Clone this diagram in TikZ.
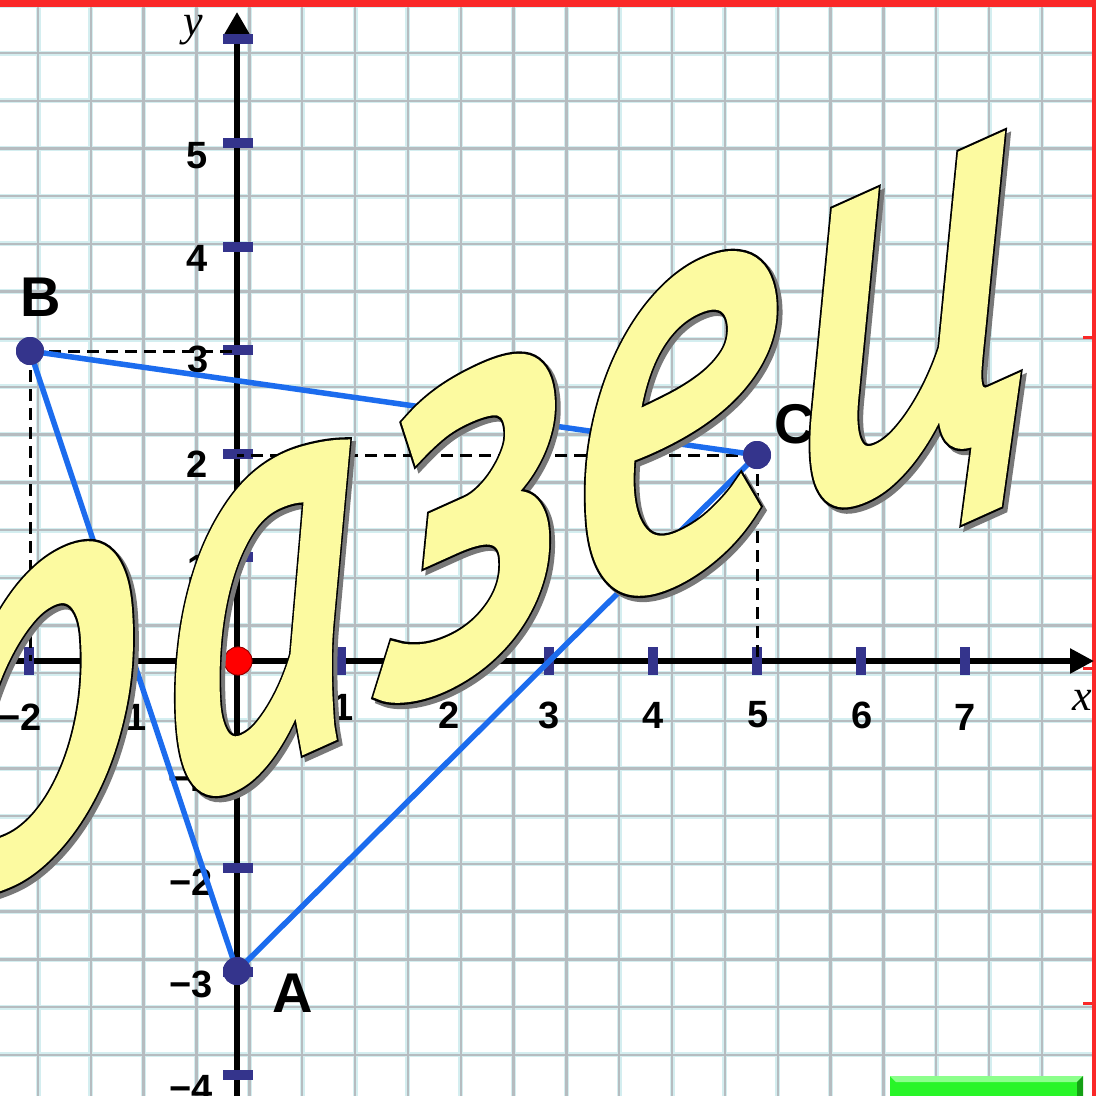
\documentclass[tikz,border=0pt]{standalone}
\usepackage{fontspec}
\setmainfont{Liberation Sans}
\newfontfamily\lblfont{Liberation Sans}
\newfontfamily\axfont{Liberation Serif}
\newfontfamily\wmfill{PT Sans}[ItalicFeatures={FakeBold=3}]
\newfontfamily\wmline{PT Sans}[ItalicFeatures={FakeBold=3.8}]
\usetikzlibrary{arrows.meta}
\definecolor{gridgray}{RGB}{182,188,192}
\definecolor{gridcyan}{RGB}{212,238,240}
\definecolor{navy}{RGB}{52,52,140}
\definecolor{triblue}{RGB}{28,108,238}
\definecolor{wmyellow}{RGB}{252,250,160}
\definecolor{wmshadow}{RGB}{120,120,120}
\definecolor{framered}{RGB}{250,40,40}
\definecolor{btn}{RGB}{40,245,40}
\definecolor{btnlight}{RGB}{140,255,140}
\definecolor{btndark}{RGB}{20,160,20}
\newcommand\wmletter[6]{%
  \node[wm, xscale=#6, xslant=-0.08, text=wmshadow, font=\wmline\itshape\fontsize{#5}{#5}\selectfont] (#1s) at ({#2+4},{#3+4}) {#4};
  \node[wm, xscale=#6, xslant=-0.08, text=black, font=\wmline\itshape\fontsize{#5}{#5}\selectfont] (#1o) at (#2,#3) {#4};
  \node[wm, xscale=#6, xslant=-0.08, text=wmyellow, font=\wmfill\itshape\fontsize{#5}{#5}\selectfont] (#1f) at (#2,#3) {#4};
}
\begin{document}
\begin{tikzpicture}[x=1pt,y=-1pt,
  gridline/.style={line width=2.4pt, draw=gridgray},
  gridhalo/.style={line width=5pt, draw=gridcyan},
  axis/.style={line width=5.5pt, draw=black},
  tickh/.style={rectangle, fill=navy, draw=none, minimum width=30pt, minimum height=10pt, inner sep=0pt},
  tickv/.style={rectangle, fill=navy, draw=none, minimum width=10pt, minimum height=28pt, inner sep=0pt},
  num/.style={font=\lblfont\bfseries\fontsize{38}{38}\selectfont, inner sep=0pt},
  ptlbl/.style={font=\lblfont\bfseries\fontsize{56}{56}\selectfont, inner sep=0pt},
  axlbl/.style={font=\axfont\itshape\fontsize{44}{44}\selectfont, inner sep=0pt},
  dot/.style={circle, fill=navy, minimum size=28pt, inner sep=0pt},
  origin/.style={circle, fill=red, draw={rgb,255:red,150;green,0;blue,0}, line width=0.8pt, minimum size=28pt, inner sep=0pt},
  side/.style={draw=triblue, line width=5.5pt, line cap=round},
  proj/.style={draw=black, line width=3pt, dash pattern=on 12pt off 7pt},
  wm/.style={anchor=base, inner sep=0pt, yslant=0.45},
]
\useasboundingbox (0,0) rectangle (1096,1096);
\fill[white] (0,0) rectangle (1096,1096);
% grid
\foreach \i in {-1,...,19} {
  \draw[gridhalo] ({38+52.84*\i},0) -- ({38+52.84*\i},1096);
}
\foreach \k in {-1,...,22} {
  \draw[gridhalo] (0,{53+47.7*\k}) -- (1096,{53+47.7*\k});
}
\foreach \i in {-1,...,19} {
  \draw[gridline] ({38+52.84*\i},0) -- ({38+52.84*\i},1096);
}
\foreach \k in {-1,...,22} {
  \draw[gridline] (0,{53+47.7*\k}) -- (1096,{53+47.7*\k});
}
% red frame
\fill[framered] (0,0) rectangle (1096,7);
\fill[framered] (1092,0) rectangle (1096,1096);
\foreach \yy in {337,668,1003} {
  \fill[framered] (1083,{\yy-1.5}) rectangle (1096,{\yy+1.5});
}
% green button
\fill[btn] (890,1076) rectangle (1083,1100);
\fill[btnlight] (890,1076) -- (1083,1076) -- (1077,1082) -- (896,1082) -- cycle;
\fill[btndark] (1083,1076) -- (1083,1100) -- (1077,1100) -- (1077,1082) -- cycle;
% axes
\coordinate (ybot) at (237,1096);
\coordinate (ytop) at (237,12);
\coordinate (xleft) at (0,661);
\coordinate (xright) at (1094,661);
\draw[axis, -{Triangle[length=24pt,width=26pt]}] (ybot) -- (ytop);
\draw[axis, -{Triangle[length=24pt,width=24pt]}] (xleft) -- (xright);
% ticks
\foreach \v in {6,5,4,3,2,1,-1,-2,-3,-4} {
  \node[tickh] (ty\v) at (238,{661-103.6*\v}) {};
}
\foreach \v in {-2,-1,1,2,3,4,5,6,7} {
  \node[tickv] (tx\v) at ({237+104*\v},661) {};
}
% tick labels
\node[num] (ly5) at (197,156) {5};
\node[num] (ly4) at (197,258) {4};
\node[num] (ly3) at (198,359) {3};
\node[num] (ly2) at (197,464) {2};
\node[num] (ly1) at (198,568) {1};
\node[num] (lym1) at (190,778) {−1};
\node[num] (lym2) at (191,882) {−2};
\node[num] (lym3) at (191,984) {−3};
\node[num] (lym4) at (191,1088) {−4};
\node[num] (lxm2) at (20,717) {−2};
\node[num] (lxm1) at (125,717) {−1};
\node[num] (lx0) at (210,702) {0};
\node[num] (lx1) at (343,707) {1};
\node[num] (lx2) at (449,715) {2};
\node[num] (lx3) at (549,715) {3};
\node[num] (lx4) at (653,715) {4};
\node[num] (lx5) at (758,715) {5};
\node[num] (lx6) at (862,715) {6};
\node[num] (lx7) at (965,717) {7};
\node[axlbl] (lblx) at (1082,700) {x};
\node[axlbl] (lbly) at (193,30) {y};
% points
\node[dot] (B) at (30,351) {};
\node[dot] (A) at (237,971) {};
\node[dot] (C) at (757,455) {};
\node[origin] (O) at (238,661) {};
\coordinate (By) at (237,351);
\coordinate (Bx) at (30,661);
\coordinate (Cy) at (237,455);
\coordinate (Cx) at (757,661);
\draw[proj] (B.center) -- (By);
\draw[proj] (B.center) -- (Bx);
\draw[proj] (C.center) -- (Cy);
\draw[proj] (C.center) -- (Cx);
\draw[side] (A.center) -- (B.center) -- (C.center) -- cycle;
\node[dot] at (B) {};
\node[dot] at (A) {};
\node[dot] at (C) {};
\node[origin] at (O) {};
\node[ptlbl] (lblB) at (41,297) {B};
\node[ptlbl] (lblA) at (293,993) {A};
\node[ptlbl] (lblC) at (795,424) {C};
% watermark
\wmletter{w1}{32}{862}{р}{570}{0.82}
\wmletter{w2}{266}{762}{а}{570}{0.7}
\wmletter{w3}{480}{662}{з}{570}{0.8}
\wmletter{w4}{682}{568}{е}{570}{0.8}
\wmletter{w5}{912}{466}{ц}{570}{0.78}
\end{tikzpicture}
\end{document}
